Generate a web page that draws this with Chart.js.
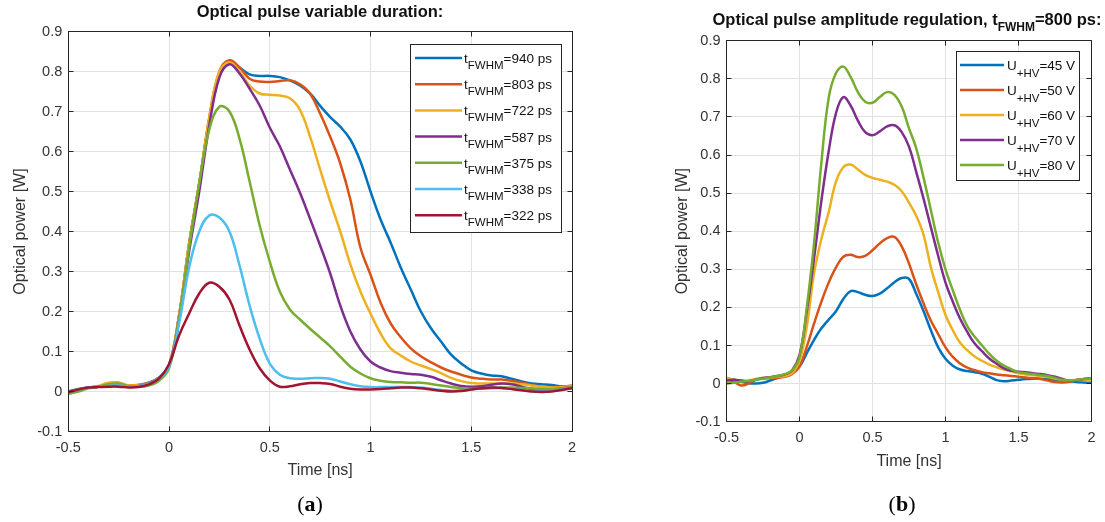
<!DOCTYPE html>
<html>
<head>
<meta charset="utf-8">
<title>Optical pulse duration and amplitude</title>
<script src="https://cdn.jsdelivr.net/npm/chart.js@4.4.1/dist/chart.umd.min.js"></script>
<style>
    html, body { margin: 0; padding: 0; background: #fff; }
    #page { position: relative; width: 1105px; height: 522px; overflow: hidden; background: #fff; }
    canvas { position: absolute; top: 0; }
    #chartA { left: 0; }
    #chartB { left: 620px; }
    .caption {
        position: absolute;
        top: 491px;
        transform: translateX(-50%);
        font-family: "Liberation Serif", "DejaVu Serif", serif;
        font-size: 22px;
        color: #000;
    }
</style>
</head>
<body>
<div id="page">
    <canvas id="chartA" width="600" height="522"></canvas>
    <canvas id="chartB" width="485" height="522"></canvas>
    <div class="caption" style="left:310px">(<b>a</b>)</div>
    <div class="caption" style="left:902px">(<b>b</b>)</div>
</div>
<script>
// time axis shared by every curve [ns]
const timeNs = [-0.5, -0.45, -0.4, -0.35, -0.3, -0.25, -0.2, -0.15, -0.1, -0.05,
    0, 0.05, 0.1, 0.15, 0.2, 0.25, 0.3, 0.35, 0.4, 0.45,
    0.5, 0.55, 0.6, 0.65, 0.7, 0.75, 0.8, 0.85, 0.9, 0.95,
    1, 1.05, 1.1, 1.15, 1.2, 1.25, 1.3, 1.35, 1.4, 1.45,
    1.5, 1.55, 1.6, 1.65, 1.7, 1.75, 1.8, 1.85, 1.9, 1.95, 2];

// (a) variable duration, optical power [W]
const durationLabels = ['940 ps', '803 ps', '722 ps', '587 ps', '375 ps', '338 ps', '322 ps'];
const fwhm940 = [0, 0.006, 0.01, 0.012, 0.014, 0.015, 0.013, 0.015, 0.022, 0.035,
    0.065, 0.19, 0.37, 0.52, 0.68, 0.795, 0.825, 0.81, 0.793, 0.789,
    0.789, 0.786, 0.778, 0.765, 0.745, 0.714, 0.686, 0.662, 0.63, 0.575,
    0.5, 0.43, 0.372, 0.31, 0.255, 0.2, 0.158, 0.125, 0.092, 0.07,
    0.053, 0.045, 0.04, 0.038, 0.032, 0.025, 0.02, 0.018, 0.016, 0.013, 0.012];
const fwhm803 = [-0.003, 0.004, 0.01, 0.012, 0.02, 0.022, 0.015, 0.017, 0.022, 0.033,
    0.065, 0.19, 0.37, 0.52, 0.685, 0.8, 0.828, 0.81, 0.782, 0.775,
    0.774, 0.776, 0.778, 0.768, 0.745, 0.695, 0.637, 0.57, 0.48, 0.36,
    0.292, 0.222, 0.17, 0.136, 0.108, 0.088, 0.073, 0.06, 0.05, 0.042,
    0.035, 0.032, 0.03, 0.03, 0.027, 0.022, 0.016, 0.012, 0.01, 0.012, 0.015];
const fwhm722 = [-0.003, 0.005, 0.01, 0.014, 0.022, 0.022, 0.015, 0.016, 0.02, 0.033,
    0.065, 0.19, 0.37, 0.52, 0.685, 0.8, 0.823, 0.8, 0.765, 0.745,
    0.742, 0.74, 0.733, 0.704, 0.637, 0.555, 0.475, 0.4, 0.318, 0.25,
    0.195, 0.145, 0.108, 0.09, 0.075, 0.065, 0.056, 0.046, 0.034, 0.026,
    0.021, 0.02, 0.02, 0.02, 0.02, 0.018, 0.015, 0.012, 0.01, 0.011, 0.013];
const fwhm587 = [-0.003, 0.005, 0.01, 0.012, 0.015, 0.016, 0.012, 0.014, 0.02, 0.032,
    0.062, 0.18, 0.35, 0.5, 0.665, 0.785, 0.818, 0.795, 0.757, 0.715,
    0.66, 0.613, 0.555, 0.497, 0.432, 0.365, 0.295, 0.215, 0.15, 0.105,
    0.075, 0.06, 0.051, 0.047, 0.044, 0.042, 0.037, 0.028, 0.02, 0.014,
    0.012, 0.013, 0.017, 0.02, 0.018, 0.012, 0.006, 0.004, 0.005, 0.008, 0.01];
const fwhm375 = [-0.006, 0, 0.008, 0.012, 0.018, 0.02, 0.013, 0.012, 0.015, 0.027,
    0.058, 0.18, 0.36, 0.52, 0.655, 0.712, 0.7, 0.632, 0.525, 0.415,
    0.325, 0.25, 0.205, 0.18, 0.157, 0.135, 0.113, 0.087, 0.062, 0.045,
    0.033, 0.027, 0.024, 0.023, 0.022, 0.022, 0.019, 0.015, 0.011, 0.008,
    0.007, 0.007, 0.008, 0.01, 0.01, 0.009, 0.008, 0.006, 0.006, 0.008, 0.01];
const fwhm338 = [-0.002, 0.005, 0.01, 0.012, 0.014, 0.015, 0.012, 0.013, 0.02, 0.032,
    0.062, 0.17, 0.31, 0.4, 0.44, 0.435, 0.4, 0.315, 0.215, 0.132,
    0.07, 0.042, 0.033, 0.032, 0.033, 0.034, 0.032, 0.025, 0.018, 0.013,
    0.011, 0.011, 0.011, 0.011, 0.011, 0.01, 0.007, 0.004, 0.002, 0.003,
    0.005, 0.008, 0.01, 0.009, 0.007, 0.004, 0.001, 0, 0.002, 0.005, 0.008];
const fwhm322 = [-0.002, 0.005, 0.01, 0.011, 0.012, 0.012, 0.01, 0.011, 0.018, 0.032,
    0.068, 0.14, 0.195, 0.245, 0.272, 0.262, 0.23, 0.165, 0.105, 0.058,
    0.028, 0.012, 0.013, 0.018, 0.021, 0.021, 0.019, 0.012, 0.007, 0.005,
    0.005, 0.006, 0.008, 0.01, 0.01, 0.008, 0.005, 0.002, 0, 0.001,
    0.005, 0.008, 0.01, 0.009, 0.006, 0.003, 0, -0.001, 0, 0.004, 0.008];

// (b) amplitude regulation, optical power [W]
const voltageLabels = ['45 V', '50 V', '60 V', '70 V', '80 V'];
const amp45 = [0.015, 0.01, 0.005, 0.001, 0, 0.002, 0.008, 0.015, 0.022, 0.03,
    0.045, 0.08, 0.115, 0.145, 0.168, 0.19, 0.222, 0.243, 0.24, 0.233,
    0.23, 0.236, 0.25, 0.266, 0.277, 0.275, 0.235, 0.19, 0.14, 0.095,
    0.065, 0.047, 0.037, 0.033, 0.03, 0.026, 0.018, 0.009, 0.006, 0.008,
    0.01, 0.012, 0.013, 0.013, 0.012, 0.01, 0.008, 0.006, 0.004, 0.003, 0.002];
const amp50 = [0.012, 0.005, -0.005, 0, 0.01, 0.013, 0.014, 0.015, 0.018, 0.025,
    0.045, 0.097, 0.158, 0.215, 0.265, 0.305, 0.333, 0.338, 0.332, 0.335,
    0.35, 0.368, 0.382, 0.385, 0.36, 0.315, 0.26, 0.21, 0.165, 0.13,
    0.095, 0.07, 0.053, 0.042, 0.035, 0.03, 0.027, 0.024, 0.022, 0.02,
    0.018, 0.016, 0.014, 0.012, 0.008, 0.004, 0.003, 0.005, 0.01, 0.012, 0.013];
const amp60 = [0.015, 0.01, 0.008, 0.008, 0.012, 0.015, 0.016, 0.018, 0.02, 0.028,
    0.06, 0.15, 0.29, 0.38, 0.45, 0.53, 0.568, 0.575, 0.562, 0.548,
    0.54, 0.535, 0.53, 0.522, 0.505, 0.475, 0.44, 0.39, 0.305, 0.24,
    0.18, 0.14, 0.107, 0.087, 0.071, 0.06, 0.05, 0.043, 0.037, 0.032,
    0.027, 0.024, 0.022, 0.02, 0.017, 0.013, 0.01, 0.008, 0.008, 0.009, 0.01];
const amp70 = [0.008, 0.01, 0.008, 0.006, 0.01, 0.015, 0.017, 0.02, 0.024, 0.035,
    0.075, 0.19, 0.33, 0.48, 0.61, 0.71, 0.752, 0.73, 0.69, 0.66,
    0.652, 0.662, 0.675, 0.678, 0.66, 0.622, 0.555, 0.485, 0.41, 0.335,
    0.265, 0.215, 0.17, 0.135, 0.105, 0.085, 0.066, 0.052, 0.04, 0.034,
    0.031, 0.03, 0.027, 0.025, 0.022, 0.018, 0.012, 0.007, 0.008, 0.012, 0.015];
const amp80 = [0, 0.002, 0.005, 0.007, 0.01, 0.013, 0.016, 0.02, 0.025, 0.035,
    0.07, 0.2, 0.37, 0.58, 0.75, 0.815, 0.832, 0.805, 0.765, 0.74,
    0.737, 0.752, 0.765, 0.758, 0.727, 0.67, 0.617, 0.54, 0.455, 0.37,
    0.3, 0.245, 0.193, 0.15, 0.123, 0.1, 0.078, 0.06, 0.047, 0.038,
    0.03, 0.027, 0.025, 0.022, 0.02, 0.015, 0.01, 0.008, 0.01, 0.012, 0.014];

// MATLAB default line colours
const lineColors = ['#0072BD', '#D95319', '#EDB120', '#7E2F8E', '#77AC30', '#4DBEEE', '#A2142F'];

const FONT = '"Liberation Sans", Arial, Helvetica, sans-serif';
const TEXT_COLOR = '#333333';
const AXIS_COLOR = '#262626';
const GRID_COLOR = '#e2e2e2';
const TICK_LEN = 5;

// draws text pieces, some of them as subscripts
function drawRich(ctx, parts, x, baseline, align, style) {
    const fontFor = sub => `${style.weight} ${sub ? style.subSize : style.size}px ${FONT}`;
    let total = 0;
    parts.forEach(([text, sub]) => {
        ctx.font = fontFor(sub);
        total += ctx.measureText(text).width;
    });
    let cx = align === 'center' ? x - total / 2 : x;
    ctx.fillStyle = style.color;
    ctx.textAlign = 'left';
    ctx.textBaseline = 'alphabetic';
    parts.forEach(([text, sub]) => {
        ctx.font = fontFor(sub);
        ctx.fillText(text, cx, baseline + (sub ? style.subDrop : 0));
        cx += ctx.measureText(text).width;
    });
}

const alignPx = p => Math.round(p - 0.5) + 0.5;

const matlabFrame = {
    id: 'matlabFrame',
    afterDraw(chart, args, opts) {
        const ctx = chart.ctx;
        const area = chart.chartArea;
        const xs = chart.scales.x;
        const ys = chart.scales.y;
        const l = alignPx(area.left), r = alignPx(area.right);
        const t = alignPx(area.top), b = alignPx(area.bottom);

        ctx.save();
        ctx.strokeStyle = AXIS_COLOR;
        ctx.lineWidth = 1;
        ctx.beginPath();
        xs.ticks.forEach(tick => {
            const px = alignPx(xs.getPixelForValue(tick.value));
            ctx.moveTo(px, t); ctx.lineTo(px, t + TICK_LEN);
            ctx.moveTo(px, b); ctx.lineTo(px, b - TICK_LEN);
        });
        ys.ticks.forEach(tick => {
            const py = alignPx(ys.getPixelForValue(tick.value));
            ctx.moveTo(l, py); ctx.lineTo(l + TICK_LEN, py);
            ctx.moveTo(r, py); ctx.lineTo(r - TICK_LEN, py);
        });
        ctx.stroke();
        ctx.strokeRect(l, t, r - l, b - t);

        // title
        drawRich(ctx, opts.title, opts.titleX, opts.titleY, 'center',
            { size: 16.5, subSize: 12, subDrop: 6, weight: 'bold', color: '#111' });

        // legend
        const lg = opts.legend;
        ctx.fillStyle = '#fff';
        ctx.fillRect(lg.left, lg.top, lg.width, lg.height);
        ctx.strokeStyle = AXIS_COLOR;
        ctx.lineWidth = 1;
        ctx.strokeRect(lg.left + 0.5, lg.top + 0.5, lg.width, lg.height);
        chart.data.datasets.forEach((ds, i) => {
            const y = lg.firstRow + i * lg.rowStep;
            ctx.strokeStyle = ds.borderColor;
            ctx.lineWidth = 2.5;
            ctx.beginPath();
            ctx.moveTo(lg.lineFrom, y);
            ctx.lineTo(lg.lineTo, y);
            ctx.stroke();
            drawRich(ctx, [[lg.prefix, false], [lg.sub, true], ['=' + ds.label, false]], lg.textX, y + 5, 'left',
                { size: 13.5, subSize: 11.5, subDrop: lg.subDrop, weight: 'normal', color: '#111' });
        });
        ctx.restore();
    }
};

function buildDatasets(labels, series) {
    return series.map((values, i) => ({
        label: labels[i],
        data: timeNs.map((t, j) => ({ x: t, y: values[j] })),
        borderColor: lineColors[i],
        borderWidth: 2.5,
        pointRadius: 0,
        fill: false,
        tension: 0.4,
        order: labels.length - i
    }));
}

// MATLAB style numbers: 1 instead of 1.0
const plainNumber = value => String(parseFloat(Number(value).toFixed(2)));

function buildScales(yWidth, yTitlePad, xHeight) {
    const tickFont = { family: FONT, size: 14.5 };
    const titleFont = { family: FONT, size: 16 };
    return {
        x: {
            type: 'linear',
            min: -0.5,
            max: 2,
            afterFit: scale => { scale.height = xHeight; },
            grid: { color: GRID_COLOR, drawTicks: false },
            border: { display: false },
            ticks: { stepSize: 0.5, autoSkip: false, maxRotation: 0, padding: 8, color: TEXT_COLOR, font: tickFont, callback: plainNumber },
            title: { display: true, text: 'Time [ns]', color: TEXT_COLOR, font: titleFont, padding: 0 }
        },
        y: {
            type: 'linear',
            min: -0.1,
            max: 0.9,
            afterFit: scale => { scale.width = yWidth; },
            grid: { color: GRID_COLOR, drawTicks: false },
            border: { display: false },
            ticks: { stepSize: 0.1, autoSkip: false, padding: 6, color: TEXT_COLOR, font: tickFont, callback: plainNumber },
            title: { display: true, text: 'Optical power [W]', color: TEXT_COLOR, font: titleFont, padding: { top: yTitlePad, bottom: 0 } }
        }
    };
}

function createChart(canvasId, datasets, layout, frame) {
    return new Chart(document.getElementById(canvasId), {
        type: 'line',
        data: { datasets: datasets },
        options: {
            responsive: false,
            animation: false,
            events: [],
            layout: { padding: layout.padding },
            scales: buildScales(layout.yWidth, layout.yTitlePad, layout.xHeight),
            plugins: {
                legend: { display: false },
                tooltip: { enabled: false },
                matlabFrame: frame
            }
        },
        plugins: [matlabFrame]
    });
}

document.addEventListener('DOMContentLoaded', function() {
    createChart('chartA',
        buildDatasets(durationLabels, [fwhm940, fwhm803, fwhm722, fwhm587, fwhm375, fwhm338, fwhm322]),
        { padding: { left: 0, right: 28, top: 31.5, bottom: 41.5 }, yWidth: 68.25, yTitlePad: 11.4, xHeight: 49 },
        {
            title: [['Optical pulse variable duration:', false]],
            titleX: 320, titleY: 17,
            legend: { left: 410, top: 44, width: 151, height: 188, firstRow: 58, rowStep: 26.2,
                lineFrom: 415, lineTo: 462, textX: 464, prefix: 't', sub: 'FWHM', subDrop: 6 }
        });

    createChart('chartB',
        buildDatasets(voltageLabels, [amp45, amp50, amp60, amp70, amp80]),
        { padding: { left: 0, right: 13.5, top: 40.7, bottom: 51.3 }, yWidth: 106.5, yTitlePad: 53.4, xHeight: 49 },
        {
            title: [['Optical pulse amplitude regulation, t', false], ['FWHM', true], ['=800 ps:', false]],
            titleX: 287, titleY: 25,
            legend: { left: 336, top: 51, width: 123, height: 129, firstRow: 65, rowStep: 25,
                lineFrom: 340, lineTo: 384, textX: 387, prefix: 'U', sub: '+HV', subDrop: 7 }
        });
});
</script>
</body>
</html>
